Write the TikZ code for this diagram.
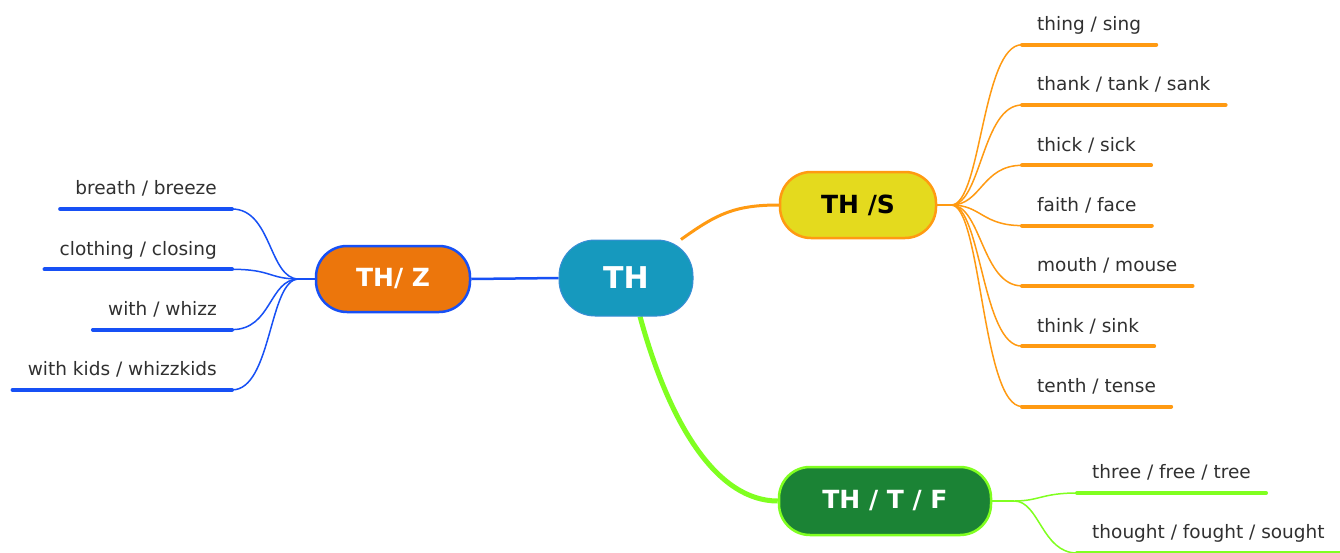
\documentclass[tikz,border=0pt]{standalone}
\usepackage{fontspec}
\setmainfont{DejaVu Sans}
\usetikzlibrary{calc, positioning}
\pgfdeclarelayer{paper}
\pgfdeclarelayer{wire}
\pgfsetlayers{paper,wire,main}
\definecolor{thfill}{HTML}{1699BE}
\definecolor{thline}{HTML}{3A8ED6}
\definecolor{sfill}{HTML}{E4DA1E}
\definecolor{sline}{HTML}{FF9A12}
\definecolor{zfill}{HTML}{EC760C}
\definecolor{zline}{HTML}{1750F5}
\definecolor{tffill}{HTML}{1B8335}
\definecolor{tfline}{HTML}{80FF20}
\definecolor{leafgray}{HTML}{303030}
\def\gap{60.3}
\tikzset{
    hub/.style = {
        draw, rectangle, rounded corners=31pt, line width=2.5pt, align=center,
        minimum height=66pt, font=\bfseries\fontsize{25}{28}\selectfont
    },
    leaf/.style = {
        inner xsep=15pt, inner ysep=10pt, text height=13pt, text depth=4pt,
        text=leafgray, font=\fontsize{18.5}{20}\selectfont
    },
    twig/.style = {line width=1.5pt},
    stem/.style = {line width=4pt, line cap=round},
}

\begin{document}
\begin{tikzpicture}[x=1pt, y=-1pt]
        \begin{pgfonlayer}{paper}
            \fill[white] (0,0) rectangle (1340,552);
        \end{pgfonlayer}
        \useasboundingbox (0,0) rectangle (1340,552);

        % Place the main nodes
        \node[hub, fill=thfill, draw=thline, line width=1pt, text=white, rounded corners=36pt,
              minimum width=134pt, minimum height=76pt, font=\bfseries\fontsize{30}{32}\selectfont] (th) at (626,278) {TH};
        \node[hub, fill=sfill, draw=sline, text=black, minimum width=156pt] (ths) at (858,205) {TH /S};
        \node[hub, fill=zfill, draw=zline, text=white, minimum width=154pt] (thz) at (393,279) {TH/ Z};
        \node[hub, fill=tffill, draw=tfline, text=white, minimum width=212pt, minimum height=68pt] (thtf) at (885,501) {TH / T / F};

        \coordinate[right=14pt of ths.east] (ths-hub);
        \coordinate[left=16pt of thz.west] (thz-hub);
        \coordinate[right=22pt of thtf.east] (thtf-hub);

        % Draw connections from the centre
        \begin{pgfonlayer}{wire}
            \draw[sline, line width=3pt] (th.35) .. controls +(35,-25) and +(-45,0) .. (ths.west);
            \draw[zline, line width=2.5pt] (th.west) -- (thz.east);
            \draw[tfline, line width=5pt] (th.-70) .. controls +(30,110) and +(-60,0) .. (thtf.west);
            \draw[sline, line width=2pt] (ths.east) -- (ths-hub);
            \draw[zline, line width=2pt] (thz.west) -- (thz-hub);
            \draw[tfline, line width=2pt] (thtf.east) -- (thtf-hub);
        \end{pgfonlayer}

        % Leaves of TH /S
        \foreach \word [count=\i] in {thing / sing, thank / tank / sank, thick / sick, faith / face,
                                      mouth / mouse, think / sink, tenth / tense}{
            \node[leaf, anchor=south west] (s\i) at (1022, {44.7+(\i-1)*\gap}) {\word};
            \draw[stem, sline] (s\i.south west) -- (s\i.south east);
            \draw[twig, sline] (ths-hub) .. controls +(30,0) and +(-40,0) .. (s\i.south west);
        }

        % Leaves of TH/ Z
        \foreach \word [count=\i] in {breath / breeze, clothing / closing, with / whizz, with kids / whizzkids}{
            \node[leaf, anchor=south east] (z\i) at (232, {209+(\i-1)*\gap}) {\word};
            \draw[stem, zline] (z\i.south west) -- (z\i.south east);
            \draw[twig, zline] (thz-hub) .. controls +(-30,0) and +(40,0) .. (z\i.south east);
        }

        % Leaves of TH / T / F
        \foreach \word [count=\i] in {three / free / tree, thought / fought / sought}{
            \node[leaf, anchor=south west] (tf\i) at (1077, {493+(\i-1)*60}) {\word};
            \draw[stem, tfline] (tf\i.south west) -- (tf\i.south east);
            \draw[twig, tfline] (thtf-hub) .. controls +(25,0) and +(-35,0) .. (tf\i.south west);
        }
    \end{tikzpicture}
\end{document}
